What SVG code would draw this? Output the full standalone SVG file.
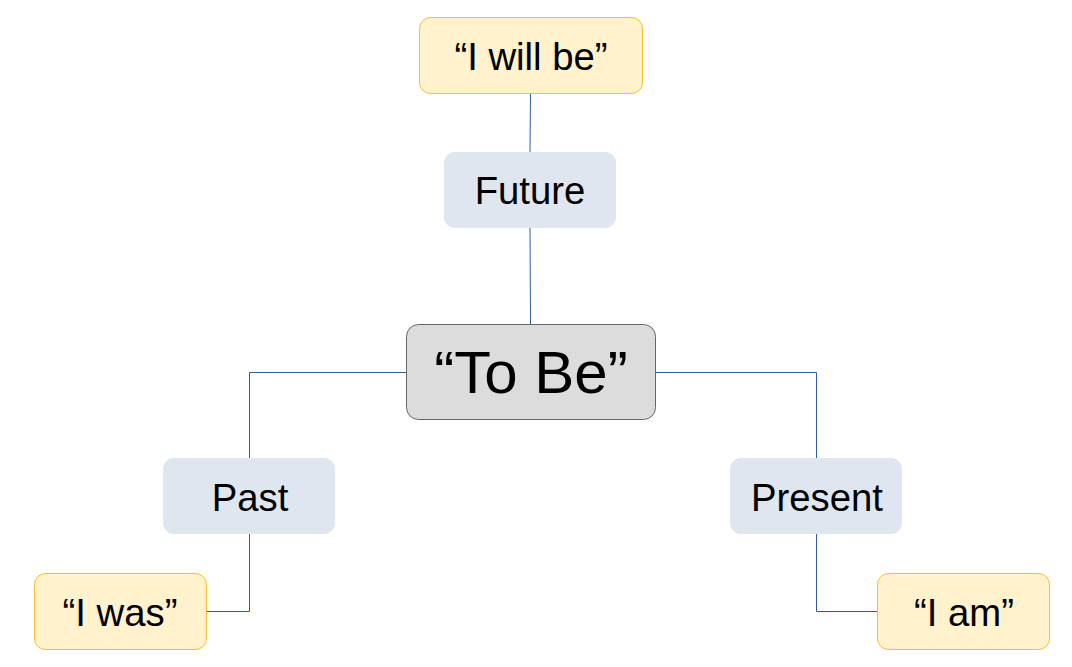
<svg xmlns="http://www.w3.org/2000/svg" width="1072" height="667" viewBox="0 0 1072 667">
<style>
.quote rect{fill:#fff2cc;stroke:#f5c02a;stroke-width:1}
.tense rect{fill:#dfe6ef;stroke:none}
.root rect{fill:#dcdcdc;stroke:#666666;stroke-width:1}
text{font-family:"Liberation Sans",Arial,sans-serif;fill:#000;text-anchor:middle}
.t37{font-size:38.3px}
.t56{font-size:60px}
#connectors path{fill:none;stroke:#2e5c9e;stroke-width:1}
</style>
<rect width="1072" height="667" fill="#ffffff"/>
<g id="connectors">
<path d="M530.5 93 L530 152"/>
<path d="M530 227 L530.5 324"/>
<path d="M406 372.5 H249.5 V458"/>
<path d="M656 372.5 H816.5 V458"/>
<path d="M249.5 534 V611.5 H206"/>
<path d="M816.5 534 V611.5 H877"/>
</g>
<g id="will" class="quote"><rect x="419.5" y="17.5" width="223" height="76" rx="11"/><text class="t37" x="531" y="69.5">“I will be”</text></g>
<g id="future" class="tense"><rect x="444" y="152" width="172" height="76" rx="11"/><text class="t37" x="530" y="203.5">Future</text></g>
<g id="tobe" class="root"><rect x="406.5" y="324.5" width="249" height="95" rx="12"/><text class="t56" x="531" y="393">“To Be”</text></g>
<g id="past" class="tense"><rect x="163" y="458" width="172" height="76" rx="11"/><text class="t37" x="250" y="510.5">Past</text></g>
<g id="present" class="tense"><rect x="730" y="458" width="172" height="76" rx="11"/><text class="t37" x="817" y="510.5">Present</text></g>
<g id="was" class="quote"><rect x="34.5" y="573.5" width="172" height="76" rx="11"/><text class="t37" x="120" y="625.5">“I was”</text></g>
<g id="am" class="quote"><rect x="877.5" y="573.5" width="172" height="76" rx="11"/><text class="t37" x="964" y="625.5">“I am”</text></g>
</svg>
